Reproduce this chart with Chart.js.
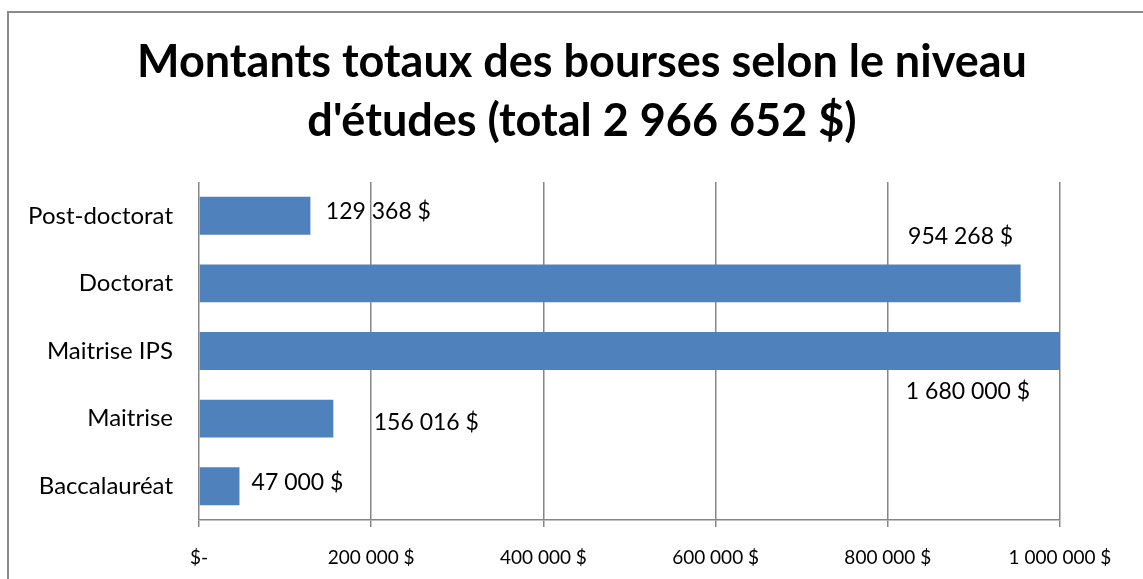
<!DOCTYPE html>
<html lang="fr">

<head>
  <meta charset="UTF-8" />
  <title>Montants totaux des bourses</title>
  <script src="https://cdn.jsdelivr.net/npm/chart.js"></script>
  <style>
    html,
    body {
      margin: 0;
      padding: 0;
      background-color: #fff;
      overflow: hidden;
    }

    #wrap {
      position: relative;
      width: 1143px;
      height: 579px;
    }

    #frame {
      position: absolute;
      left: 7px;
      top: 11px;
      width: 1200px;
      height: 700px;
      border: 2px solid #8a8a8a;
      pointer-events: none;
    }
  </style>
</head>

<body>
  <div id="wrap">
    <canvas id="boursesChart" width="1143" height="579"></canvas>
    <div id="frame"></div>
  </div>

  <script>
    // data
    const niveaux = ['Post-doctorat', 'Doctorat', 'Maitrise IPS', 'Maitrise', 'Baccalauréat'];
    const montants = [129368, 954268, 1680000, 156016, 47000];
    const titre = ['Montants totaux des bourses selon le niveau', "d'études (total 2 966 652 $)"];
    const ticksX = [0, 200000, 400000, 600000, 800000, 1000000];

    // where each value label sits relative to the bar end (Excel labels were moved by hand)
    const labelShift = [[68, -4], [-60, -47], [-92, 41], [93, 4], [58, -4]];

    const fontName = 'Lato, "Open Sans", sans-serif';

    function fmt(v) {
      if (v === 0) return '$-';
      return String(v).replace(/\B(?=(\d{3})+(?!\d))/g, ' ') + ' $';
    }

    const valueLabels = {
      id: 'valueLabels',
      afterLayout(chart) {
        // the title in the original is centred a bit right of the canvas middle
        if (chart.titleBlock) chart.titleBlock.left = 104;
      },
      afterDatasetsDraw(chart) {
        const ctx = chart.ctx;
        const area = chart.chartArea;
        const meta = chart.getDatasetMeta(0);
        ctx.save();
        ctx.font = '23px ' + fontName;
        ctx.fillStyle = '#000';
        ctx.textAlign = 'center';
        ctx.textBaseline = 'middle';
        meta.data.forEach((bar, i) => {
          const end = Math.min(bar.x, area.right);
          ctx.fillText(fmt(montants[i]), end + labelShift[i][0], bar.y + labelShift[i][1]);
        });
        ctx.restore();
      }
    };

    const ctx = document.getElementById('boursesChart').getContext('2d');

    const boursesChart = new Chart(ctx, {
      type: 'bar',
      data: {
        labels: niveaux,
        datasets: [{
          data: montants,
          backgroundColor: '#4f81bd',
          borderWidth: 0,
          categoryPercentage: 1,
          barPercentage: 0.56
        }]
      },
      options: {
        indexAxis: 'y',
        responsive: false,
        animation: false,
        events: [],
        layout: {
          padding: { left: 0, right: 83, top: 0, bottom: 0 }
        },
        scales: {
          x: {
            min: 0,
            max: 1000000,
            afterBuildTicks(scale) {
              scale.ticks = ticksX.map(v => ({ value: v }));
            },
            afterFit(scale) {
              scale.height = 59;
            },
            ticks: {
              color: '#000',
              font: { family: fontName, size: 19 },
              padding: 19,
              maxRotation: 0,
              callback: v => fmt(v)
            },
            grid: {
              color: '#868686',
              lineWidth: 1.5,
              tickLength: 7
            },
            border: { color: '#868686', width: 1.5 }
          },
          y: {
            afterFit(scale) {
              scale.width = 199;
            },
            ticks: {
              color: '#000',
              font: { family: fontName, size: 24 },
              padding: 26
            },
            grid: { display: false, drawTicks: false },
            border: { display: false }
          }
        },
        plugins: {
          legend: { display: false },
          tooltip: { enabled: false },
          title: {
            display: true,
            text: titre,
            color: '#000',
            font: { family: fontName, size: 45, weight: 'bold', lineHeight: 1.333 },
            padding: { top: 32, bottom: 30 }
          }
        }
      },
      plugins: [valueLabels]
    });
  </script>
</body>

</html>
